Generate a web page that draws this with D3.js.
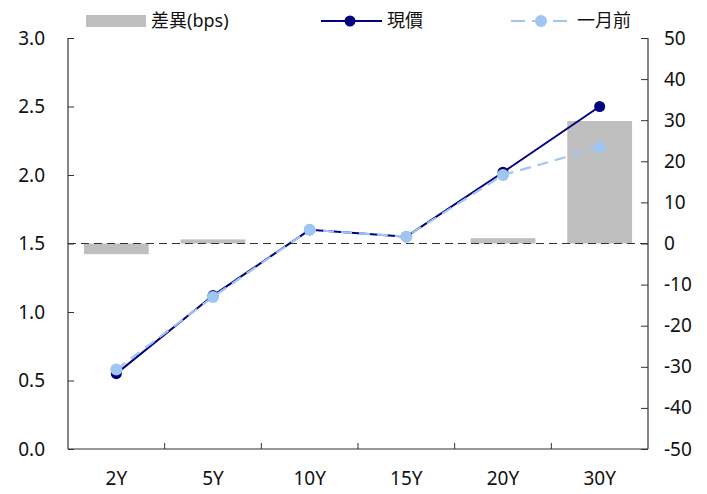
<!DOCTYPE html>
<html>
<head>
<meta charset="utf-8">
<script src="https://cdn.jsdelivr.net/npm/d3@7"></script>
<style>
  body { margin: 0; background: #fff; }
  svg { display: block; }
  text { font-family: "Noto Sans", "Noto Sans CJK TC", sans-serif; fill: #111; }
</style>
</head>
<body>
<svg id="chart" width="707" height="494"></svg>
<script>
// Tenors and yields (%), with the change in basis points shown as bars
const tenors = ["2Y", "5Y", "10Y", "15Y", "20Y", "30Y"];
const currentYield = [0.55, 1.12, 1.60, 1.55, 2.02, 2.50];
const monthAgoYield = [0.58, 1.11, 1.60, 1.55, 2.00, 2.20];
const diffBps = [-2.6, 1.0, 0.0, 0.0, 1.3, 29.8];
const leftTicks = [0, 0.5, 1.0, 1.5, 2.0, 2.5, 3.0];
const rightTicks = [-50, -40, -30, -20, -10, 0, 10, 20, 30, 40, 50];
const legendLabels = ["差異(bps)", "現價", "一月前"];

const svg = d3.select("#chart");
const plotLeft = 68, plotRight = 648, plotTop = 38, plotBottom = 449;

const x = d3.scaleBand().domain(tenors).range([plotLeft, plotRight]);
const yL = d3.scaleLinear().domain([0, 3]).range([plotBottom, plotTop]);
const yR = d3.scaleLinear().domain([-50, 50]).range([plotBottom, plotTop]);

const navy = "#000080";
const light = "#9fc5f0";
const gray = "#bfbfbf";

// Difference bars on the right axis
const barW = x.bandwidth() * 0.67;
svg.append("g").selectAll("rect").data(tenors).join("rect")
  .attr("x", d => x(d) + (x.bandwidth() - barW) / 2)
  .attr("width", barW)
  .attr("y", (d, i) => Math.min(yR(diffBps[i]), yR(0)))
  .attr("height", (d, i) => Math.abs(yR(diffBps[i]) - yR(0)))
  .attr("fill", gray);

// Zero reference line
svg.append("line")
  .attr("x1", plotLeft).attr("x2", plotRight)
  .attr("y1", yR(0)).attr("y2", yR(0))
  .attr("stroke", "#333").attr("stroke-width", 1.2)
  .attr("stroke-dasharray", "8,5");

// Axes
const fontSize = 19;
const axL = svg.append("g").attr("transform", `translate(${plotLeft},0)`)
  .call(d3.axisLeft(yL).tickValues(leftTicks).tickFormat(d3.format(".1f")).tickSize(-6).tickPadding(23));
const axR = svg.append("g").attr("transform", `translate(${plotRight},0)`)
  .call(d3.axisRight(yR).tickValues(rightTicks).tickFormat(d => d < 0 ? "-" + Math.abs(d) : d).tickSize(-7).tickPadding(16));
const bandEdges = tenors.slice(1).map(d => x(d));
const axB = svg.append("g").attr("transform", `translate(0,${plotBottom})`)
  .call(d3.axisBottom(x).tickSize(0).tickPadding(23));
svg.append("g").selectAll("line").data(bandEdges).join("line")
  .attr("x1", d => d).attr("x2", d => d)
  .attr("y1", plotBottom).attr("y2", plotBottom - 6)
  .attr("stroke", "#333");

[axL, axR, axB].forEach(a => {
  a.select(".domain").attr("stroke", "#333").attr("stroke-width", 1.2);
  a.selectAll(".tick line").attr("stroke", "#333");
  a.selectAll("text").attr("font-size", fontSize).attr("fill", "#111")
    .attr("font-family", '"Noto Sans", sans-serif');
});
axL.select(".domain").attr("d", `M0,${plotTop}V${plotBottom}`);
axR.select(".domain").attr("d", `M0,${plotTop}V${plotBottom}`);
axB.select(".domain").attr("d", `M${plotLeft},0H${plotRight}`);

// Yield lines
const line = d3.line().x((d, i) => x(tenors[i]) + x.bandwidth() / 2).y(d => yL(d));

svg.append("path").datum(currentYield)
  .attr("d", line).attr("fill", "none")
  .attr("stroke", navy).attr("stroke-width", 2);
svg.append("g").selectAll("circle").data(currentYield).join("circle")
  .attr("cx", (d, i) => x(tenors[i]) + x.bandwidth() / 2)
  .attr("cy", d => yL(d)).attr("r", 5.5).attr("fill", navy);

svg.append("path").datum(monthAgoYield)
  .attr("d", line).attr("fill", "none")
  .attr("stroke", light).attr("stroke-width", 2.2)
  .attr("stroke-dasharray", "11,7");
svg.append("g").selectAll("circle").data(monthAgoYield).join("circle")
  .attr("cx", (d, i) => x(tenors[i]) + x.bandwidth() / 2)
  .attr("cy", d => yL(d)).attr("r", 6).attr("fill", light);

// Legend
const lg = svg.append("g").attr("font-family", '"Noto Sans CJK TC", sans-serif');
const ly = 21;
lg.append("rect").attr("x", 86).attr("y", 15).attr("width", 60).attr("height", 12).attr("fill", gray);
lg.append("text").attr("x", 151).attr("y", ly).attr("dy", "0.35em").attr("font-size", 18).text(legendLabels[0]);

lg.append("line").attr("x1", 321).attr("x2", 382).attr("y1", ly).attr("y2", ly)
  .attr("stroke", navy).attr("stroke-width", 2);
lg.append("circle").attr("cx", 350).attr("cy", ly).attr("r", 5.5).attr("fill", navy);
lg.append("text").attr("x", 387).attr("y", ly).attr("dy", "0.35em").attr("font-size", 18).text(legendLabels[1]);

lg.append("line").attr("x1", 511).attr("x2", 567).attr("y1", ly).attr("y2", ly)
  .attr("stroke", light).attr("stroke-width", 2.2).attr("stroke-dasharray", "14,7");
lg.append("circle").attr("cx", 541).attr("cy", ly).attr("r", 6).attr("fill", light);
lg.append("text").attr("x", 577).attr("y", ly).attr("dy", "0.35em").attr("font-size", 18).text(legendLabels[2]);
</script>
</body>
</html>
